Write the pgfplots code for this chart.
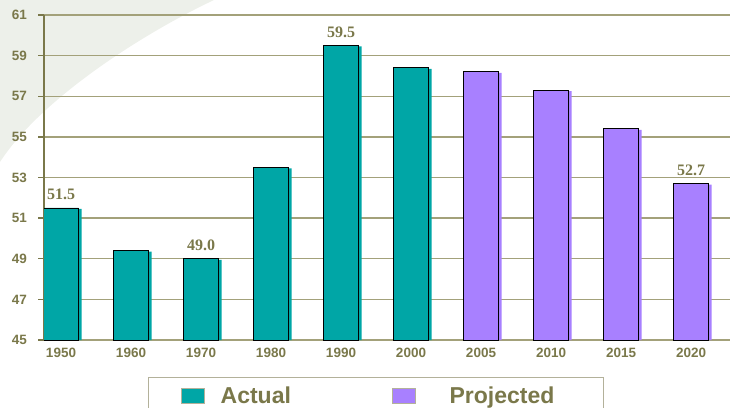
\documentclass[border=0pt]{standalone}
\usepackage{pgfplots}
\pgfplotsset{compat=1.18}
\usepackage{fontspec}
\setmainfont{Liberation Sans}
\newfontfamily\serifbf{Liberation Serif}
\definecolor{myolive}{HTML}{7A784A}
\definecolor{gridc}{HTML}{A3A17A}
\definecolor{myteal}{HTML}{00A6A6}
\definecolor{mypurp}{HTML}{A880FF}
\definecolor{swoosh}{HTML}{EDF0EA}
\definecolor{legbord}{HTML}{B3B19A}
\begin{document}
\begin{tikzpicture}
\useasboundingbox (0pt,0pt) rectangle (730pt,-407pt);
\clip (0pt,0pt) rectangle (730pt,-407pt);
\fill[swoosh] (0pt,0pt) -- (214pt,0pt) .. controls (140pt,-35pt) and (40pt,-100pt) .. (0pt,-162pt) -- cycle;
\begin{axis}[
  at={(44pt,-340pt)}, anchor=south west,
  scale only axis, width=686pt, height=325pt,
  ybar,
  xmin=-0.243, xmax=9.557, ymin=45, ymax=61,
  ytick={45,47,...,61},
  xtick={0,...,9},
  xticklabels={1950,1960,1970,1980,1990,2000,2005,2010,2015,2020},
  /pgf/number format/assume math mode=true,
  axis x line*=bottom, axis y line*=left,
  axis line style={myolive, line width=1.3pt, -},
  x axis line style={gridc},
  ymajorgrids, grid style={gridc, line width=1.3pt},
  ytick style={myolive, line width=1.3pt},
  xtick style={draw=none},
  tick align=outside,
  major tick length=6pt,
  ticklabel style={font=\bfseries\fontsize{13.5}{15}\selectfont, text=myolive},
  yticklabel style={inner sep=0pt, xshift=-11pt},
  xticklabel style={inner sep=0pt, yshift=-2pt},
  legend columns=2,
  legend image code/.code={\draw[#1, draw=legbord, line width=1pt] (0pt,-7.5pt) rectangle (23pt,7.5pt);},
  legend style={at={(axis description cs:0.1516,-0.1138)}, anchor=north west,
    draw=legbord, line width=1.3pt, fill=white,
    inner xsep=32pt, inner ysep=9pt,
    font=\bfseries\fontsize{23}{27}\selectfont, text=myolive,
    nodes={inner sep=0pt},
    /tikz/every odd column/.append style={column sep=16pt},
    /tikz/every even column/.append style={column sep=0pt}},
]
% slight right-hand shadow of each bar
\addplot[forget plot, bar shift=3pt, bar width=35pt, fill=myteal, draw=none]
  coordinates {(0,51.45) (1,49.35) (2,48.95) (3,53.45) (4,59.45) (5,58.35)};
\addplot[forget plot, bar shift=3pt, bar width=35pt, fill=mypurp, draw=none]
  coordinates {(6,58.15) (7,57.25) (8,55.35) (9,52.65)};
\addplot[bar shift=0pt, bar width=35pt, fill=myteal, draw=black, line width=0.8pt]
  coordinates {(0,51.5) (1,49.4) (2,49.0) (3,53.5) (4,59.5) (5,58.4)};
\addlegendentry{\makebox[171pt][l]{Actual}}
\addplot[bar shift=0pt, bar width=35pt, fill=mypurp, draw=black, line width=0.8pt]
  coordinates {(6,58.2) (7,57.3) (8,55.4) (9,52.7)};
\addlegendentry{\makebox[140pt][l]{\hspace{18pt}Projected}}
\addplot[forget plot, bar shift=0pt, bar width=35pt, draw=none, fill=none,
  point meta=y,
  nodes near coords={\pgfmathprintnumber[fixed,fixed zerofill,precision=1]{\pgfplotspointmeta}},
  every node near coord/.append style={anchor=south, inner sep=0pt, yshift=8pt,
    font=\serifbf\bfseries\fontsize{16}{18}\selectfont, text=myolive}]
  coordinates {(0,51.5) (2,49.0) (4,59.5) (9,52.7)};
\end{axis}
\end{tikzpicture}
\end{document}
